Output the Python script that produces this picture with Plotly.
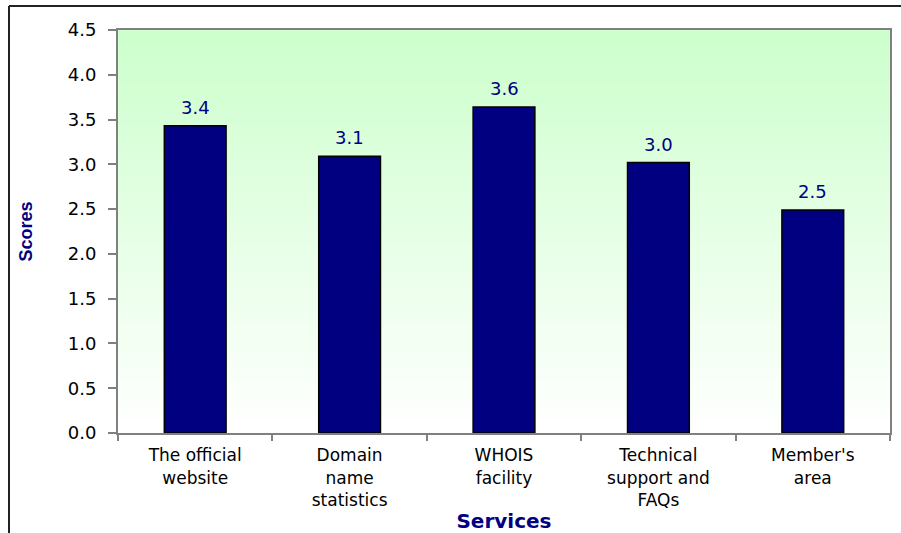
import plotly.graph_objects as go

categories = ["The official<br>website", "Domain<br>name<br>statistics", "WHOIS<br>facility",
              "Technical<br>support and<br>FAQs", "Member's<br>area"]
scores = [3.43, 3.09, 3.64, 3.02, 2.49]
y_ticks = [0.0, 0.5, 1.0, 1.5, 2.0, 2.5, 3.0, 3.5, 4.0, 4.5]

NAVY = "#000080"
FONT = "DejaVu Sans, Verdana, sans-serif"
FONT_T = "Liberation Sans, Arial, sans-serif"

fig = go.Figure()
fig.add_trace(go.Bar(
    x=categories, y=scores,
    marker=dict(color=NAVY, line=dict(color="black", width=1.5)),
    hoverinfo="x+y",
))

# value labels above bars
annotations = [dict(x=c, y=v, xref="x", yref="y", text=f"{v:.1f}", showarrow=False,
                    yanchor="bottom", yshift=6,
                    font=dict(color=NAVY, size=18, family=FONT))
               for c, v in zip(categories, scores)]

# gradient background of the plot area (light green at top to white at bottom)
n = 60
shapes = []
for i in range(n):
    t = (i + 0.5) / n  # 0 bottom, 1 top
    r = round(255 - (255 - 204) * t)
    b = round(255 - (255 - 204) * t)
    shapes.append(dict(type="rect", xref="x domain", yref="y domain",
                       x0=0, x1=1, y0=i / n, y1=(i + 1) / n + 0.002,
                       fillcolor=f"rgb({r},255,{b})", line=dict(width=0), layer="below"))

# outer chart frame (left and top edges visible)
L, R, T, B = 118, 11, 30, 100
pw, ph = 901 - L - R, 533 - T - B
fx = (9 - L) / pw
fy = 1 + (T - 6) / ph
shapes.append(dict(type="line", xref="paper", yref="paper", x0=fx, x1=fx, y0=fy, y1=-B / ph - 0.05,
                   line=dict(color="#222222", width=2)))
shapes.append(dict(type="line", xref="paper", yref="paper", x0=fx, x1=1 + R / pw + 0.05, y0=fy, y1=fy,
                   line=dict(color="#222222", width=2)))

fig.update_layout(
    width=901, height=533,
    margin=dict(l=L, r=R, t=T, b=B, autoexpand=False),
    paper_bgcolor="white", plot_bgcolor="rgba(0,0,0,0)",
    bargap=0.6, showlegend=False,
    shapes=shapes, annotations=annotations,
    font=dict(family=FONT, color="black"),
)
fig.update_yaxes(
    range=[0, 4.5], tickvals=y_ticks, ticktext=[f"{v:.1f}" for v in y_ticks],
    ticks="outside", ticklen=8, tickcolor="#808080", tickwidth=1.5,
    showline=True, linecolor="#808080", linewidth=2, mirror=True,
    showgrid=False, zeroline=False, ticklabelstandoff=8, automargin=False,
    tickfont=dict(size=18, family=FONT, color="black"),
    title=dict(text="<b>Scores</b>", font=dict(size=18, color=NAVY, family=FONT_T), standoff=30),
)
fig.update_xaxes(
    ticks="outside", tickson="boundaries", ticklen=6, tickcolor="#808080", tickwidth=1.5,
    showline=True, linecolor="#808080", linewidth=2, mirror=True,
    showgrid=False, ticklabelstandoff=6, automargin=False,
    tickfont=dict(size=17, family=FONT, color="black"),
    title=dict(text="<b>Services</b>", font=dict(size=20, color=NAVY, family=FONT), standoff=6),
)

fig.write_html("out.html")
